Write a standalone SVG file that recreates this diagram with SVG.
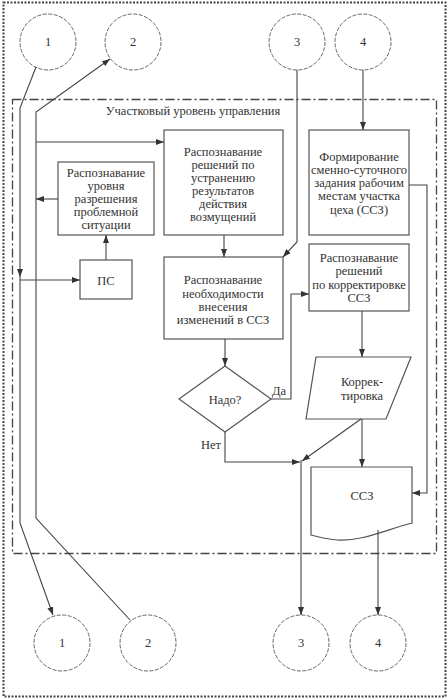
<svg xmlns="http://www.w3.org/2000/svg" width="448" height="700" viewBox="0 0 448 700">
<style>
text{font-family:"Liberation Serif","DejaVu Serif",serif;font-size:12.5px;fill:#333;text-anchor:middle}
.box{fill:#fff;stroke:#555;stroke-width:1.2}
.ln{fill:none;stroke:#444;stroke-width:1.1}
.conn{fill:none;stroke:#555;stroke-width:0.9;stroke-dasharray:4,1.5}
</style>
<defs>
<marker id="ar" markerWidth="8" markerHeight="6" refX="8" refY="3" orient="auto" markerUnits="userSpaceOnUse">
<path d="M0,0 L8,3 L0,6 Z" fill="#333"/>
</marker>
</defs>
<rect x="0" y="0" width="448" height="700" fill="#fff"/>
<rect x="3.5" y="2.5" width="442" height="694" fill="none" stroke="#444" stroke-width="2" stroke-dasharray="2,1.5"/>
<rect x="12.5" y="99.5" width="424" height="454" fill="none" stroke="#444" stroke-width="1.3" stroke-dasharray="9,3,2,3"/>
<text x="193" y="115">Участковый уровень управления</text>

<g id="c1top"><circle class="conn" cx="48" cy="42" r="28"/><text x="48" y="46">1</text></g>
<g id="c2top"><circle class="conn" cx="133" cy="42" r="28"/><text x="133" y="46">2</text></g>
<g id="c3top"><circle class="conn" cx="297" cy="42" r="28"/><text x="297" y="46">3</text></g>
<g id="c4top"><circle class="conn" cx="363" cy="42" r="28"/><text x="363" y="46">4</text></g>
<g id="c1bot"><circle class="conn" cx="62" cy="643" r="28"/><text x="62" y="647">1</text></g>
<g id="c2bot"><circle class="conn" cx="148" cy="643" r="28"/><text x="148" y="647">2</text></g>
<g id="c3bot"><circle class="conn" cx="301" cy="643" r="28"/><text x="301" y="647">3</text></g>
<g id="c4bot"><circle class="conn" cx="378" cy="643" r="28"/><text x="378" y="647">4</text></g>

<g id="level">
<rect class="box" x="58" y="162" width="96" height="73"/>
<text x="106" y="177">Распознавание</text>
<text x="106" y="190">уровня</text>
<text x="106" y="203">разрешения</text>
<text x="106" y="216">проблемной</text>
<text x="106" y="229">ситуации</text>
</g>
<g id="ps">
<rect class="box" x="80" y="260" width="52" height="39"/>
<text x="106" y="285">ПС</text>
</g>
<g id="elim">
<rect class="box" x="164" y="130" width="119" height="105"/>
<text x="223" y="156">Распознавание</text>
<text x="223" y="169">решений по</text>
<text x="223" y="182">устранению</text>
<text x="223" y="195">результатов</text>
<text x="223" y="208">действия</text>
<text x="223" y="221">возмущений</text>
</g>
<g id="need">
<rect class="box" x="164" y="257" width="119" height="82"/>
<text x="223" y="284">Распознавание</text>
<text x="223" y="298">необходимости</text>
<text x="223" y="311">внесения</text>
<text x="223" y="324">изменений в ССЗ</text>
</g>
<g id="form">
<rect class="box" x="309" y="130" width="100" height="105"/>
<text x="359" y="161">Формирование</text>
<text x="359" y="174">сменно-суточного</text>
<text x="359" y="187">задания рабочим</text>
<text x="359" y="200">местам участка</text>
<text x="359" y="214">цеха (ССЗ)</text>
</g>
<g id="corrdec">
<rect class="box" x="309" y="244" width="100" height="67"/>
<text x="359" y="262">Распознавание</text>
<text x="359" y="275">решений</text>
<text x="359" y="289">по корректировке</text>
<text x="359" y="302">ССЗ</text>
</g>
<g id="decision">
<path class="box" d="M225,366 L271,399 L225,432 L179,399 Z"/>
<text x="225" y="404">Надо?</text>
</g>
<g id="corr">
<path class="box" d="M316,357 L411,357 L386,419 L306,419 Z"/>
<text x="362" y="386">Коррек-</text>
<text x="362" y="400">тировка</text>
</g>
<g id="ssz">
<path class="box" d="M311,467 L412,467 L412,523 C385,530 360,542 337,540 C325,539 318,537 311,535 Z"/>
<text x="362" y="500">ССЗ</text>
</g>

<g id="connectors">
<path class="ln" d="M36,67 L20,108 L20,277" marker-end="url(#ar)"/>
<path class="ln" d="M20,277 L20,523 L53,615" marker-end="url(#ar)"/>
<path class="ln" d="M20,280 L80,280" marker-end="url(#ar)"/>
<path class="ln" d="M130,620 L36,518 L36,112 L110,59" marker-end="url(#ar)"/>
<path class="ln" d="M36,142 L164,142" marker-end="url(#ar)"/>
<path class="ln" d="M58,199 L36,199" marker-end="url(#ar)"/>
<path class="ln" d="M106,260 L106,235" marker-end="url(#ar)"/>
<path class="ln" d="M224,235 L224,257" marker-end="url(#ar)"/>
<path class="ln" d="M297,70 L297,242 L283,257" marker-end="url(#ar)"/>
<path class="ln" d="M225,339 L225,366" marker-end="url(#ar)"/>
<path class="ln" d="M271,399 L291,399 L291,294 L309,294" marker-end="url(#ar)"/>
<text x="279" y="395">Да</text>
<text x="211" y="449">Нет</text>
<path class="ln" d="M225,432 L225,462 L300,462" marker-end="url(#ar)"/>
<path class="ln" d="M361,419 L302,461" marker-end="url(#ar)"/>
<path class="ln" d="M301,460 L301,615" marker-end="url(#ar)"/>
<path class="ln" d="M363,70 L363,130" marker-end="url(#ar)"/>
<path class="ln" d="M409,185 L427,185 L427,493 L412,493" marker-end="url(#ar)"/>
<path class="ln" d="M362,311 L362,357" marker-end="url(#ar)"/>
<path class="ln" d="M362,419 L362,467" marker-end="url(#ar)"/>
<path class="ln" d="M378,530 L378,615" marker-end="url(#ar)"/>
</g>
</svg>
